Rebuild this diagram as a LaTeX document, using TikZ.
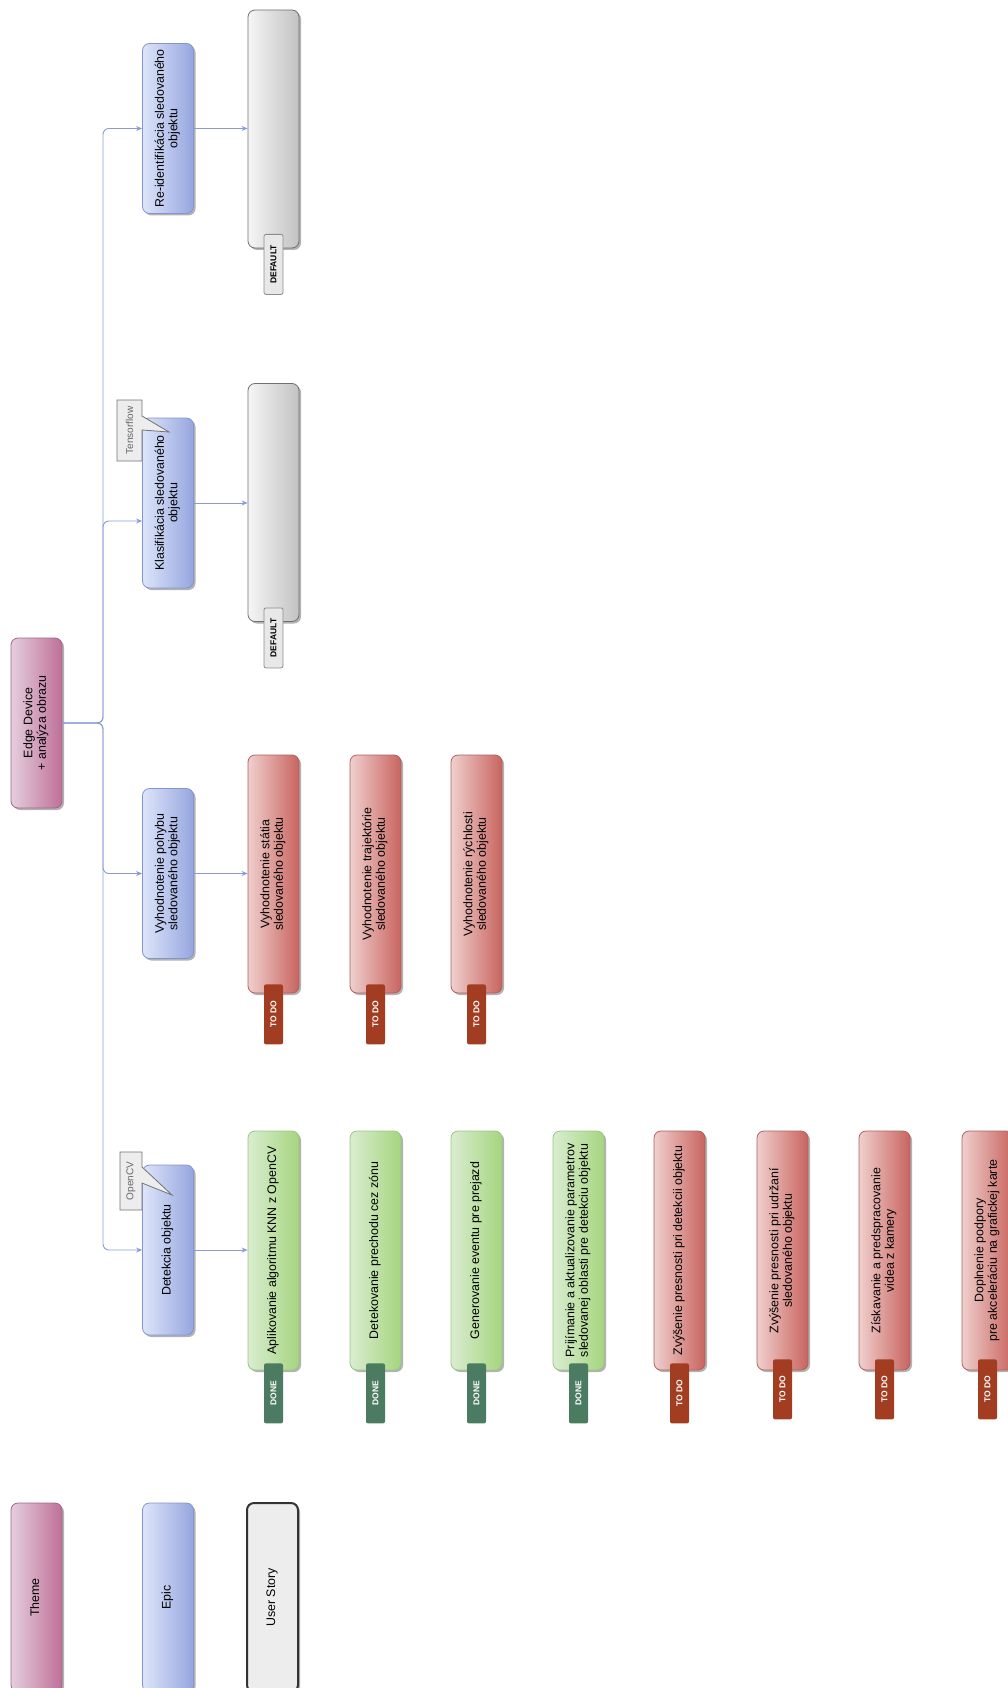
\documentclass[tikz,border=0pt]{standalone}
\usepackage{fontspec}
\setmainfont{Liberation Sans}
\usetikzlibrary{arrows.meta,shadows}
\definecolor{themeL}{HTML}{E4CFDD}
\definecolor{themeR}{HTML}{BF6F98}
\definecolor{themeD}{HTML}{A0658A}
\definecolor{epicL}{HTML}{DDE5FA}
\definecolor{epicR}{HTML}{96A6DF}
\definecolor{epicD}{HTML}{8594D0}
\definecolor{greenL}{HTML}{D9EDD0}
\definecolor{greenR}{HTML}{A6D57F}
\definecolor{greenD}{HTML}{9CC585}
\definecolor{redL}{HTML}{EFCFCD}
\definecolor{redR}{HTML}{C9645F}
\definecolor{redD}{HTML}{B0605D}
\definecolor{grayL}{HTML}{F5F5F5}
\definecolor{grayR}{HTML}{C2C2C2}
\definecolor{grayD}{HTML}{707070}
\definecolor{connc}{HTML}{8B9BD8}
\definecolor{doneC}{HTML}{4B7B61}
\definecolor{todoC}{HTML}{A33D22}
\newcommand{\rtxt}[1]{\rotatebox{90}{\begin{tabular}{@{}c@{}}#1\end{tabular}}}
\begin{document}
\begin{tikzpicture}[x=1pt,y=-1pt,
  card/.style={rounded corners=7pt, line width=0.8pt, inner sep=0pt, minimum width=51pt,
    font=\fontsize{12.4}{13.5}\selectfont,
    drop shadow={shadow xshift=2pt,shadow yshift=-2pt,opacity=0.3,fill=black}},
  theme/.style={card, left color=themeL, right color=themeR, draw=themeD},
  epic/.style={card, left color=epicL, right color=epicR, draw=epicD, minimum height=170pt},
  gstory/.style={card, left color=greenL, right color=greenR, draw=greenD, minimum height=239pt},
  rstory/.style={card, left color=redL, right color=redR, draw=redD, minimum height=239pt},
  dstory/.style={card, left color=grayL, right color=grayR, draw=grayD, minimum height=238pt},
  ustory/.style={card, fill=black!7, draw=black!80, line width=2pt, minimum height=189pt},
  tag/.style={rounded corners=2pt, minimum width=19pt, minimum height=60pt, inner sep=0pt,
    font=\bfseries\fontsize{8.5}{9}\selectfont},
  donetag/.style={tag, fill=doneC, text=white},
  todotag/.style={tag, fill=todoC, text=white},
  deftag/.style={tag, fill=black!9, draw=black!45, line width=0.8pt, text=black},
  callout/.style={fill=black!7, draw=black!55, line width=0.8pt},
  callouttext/.style={font=\fontsize{10}{11}\selectfont, text=black!60, inner sep=0pt},
  conn/.style={draw=connc, line width=0.9pt, -{Stealth[length=6pt,width=5pt]}}
]
\useasboundingbox (0,0) rectangle (1008,1688);

% theme
\node[theme, minimum height=170pt] (th) at (36.5,723) {\rtxt{Edge Device\\+ analýza obrazu}};

% epics
\node[epic] (re) at (168,128.5) {\rtxt{Re-identifikácia sledovaného\\objektu}};
\node[epic] (kl) at (168,503) {\rtxt{Klasifikácia sledovaného\\objektu}};
\node[epic] (vp) at (168,873.5) {\rtxt{Vyhodnotenie pohybu\\sledovaného objektu}};
\node[epic] (de) at (168,1250) {\rtxt{Detekcia objektu}};

% default stories
\node[dstory] (d1) at (273.5,129) {};
\node[dstory] (d2) at (273.5,502.5) {};

% movement stories
\node[rstory, minimum height=238pt] (v1) at (273.5,874) {\rtxt{Vyhodnotenie státia\\sledovaného objektu}};
\node[rstory, minimum height=238pt] (v2) at (375.5,874) {\rtxt{Vyhodnotenie trajektórie\\sledovaného objektu}};
\node[rstory, minimum height=238pt] (v3) at (476.5,874) {\rtxt{Vyhodnotenie rýchlosti\\sledovaného objektu}};

% detection stories
\node[gstory] (s1) at (273.5,1250.5) {\rtxt{Aplikovanie algoritmu KNN z OpenCV}};
\node[gstory] (s2) at (375.5,1250.5) {\rtxt{Detekovanie prechodu cez zónu}};
\node[gstory] (s3) at (476.5,1250.5) {\rtxt{Generovanie eventu pre prejazd}};
\node[gstory] (s4) at (578.5,1250.5) {\rtxt{Prijímanie a aktualizovanie parametrov\\sledovanej oblasti pre detekciu objektu}};
\node[rstory] (s5) at (679.5,1250.5) {\rtxt{Zvýšenie presnosti pri detekcii objektu}};
\node[rstory] (s6) at (782.5,1250.5) {\rtxt{Zvýšenie presnosti pri udržaní\\sledovaného objektu}};
\node[rstory] (s7) at (884.5,1250.5) {\rtxt{Získavanie a predspracovanie\\videa z kamery}};
\node[rstory] (s8) at (987.5,1250.5) {\rtxt{Doplnenie podpory\\pre akceleráciu na grafickej karte}};

% tags
\node[deftag] (t_d1) at ([yshift=-16pt]d1.south) {\rotatebox{90}{DEFAULT}};
\node[deftag] (t_d2) at ([yshift=-16pt]d2.south) {\rotatebox{90}{DEFAULT}};
\node[todotag] (t_v1) at ([yshift=-21pt]v1.south) {\rotatebox{90}{TO DO}};
\node[todotag] (t_v2) at ([yshift=-21pt]v2.south) {\rotatebox{90}{TO DO}};
\node[todotag] (t_v3) at ([yshift=-21pt]v3.south) {\rotatebox{90}{TO DO}};
\node[donetag] (t_s1) at ([yshift=-23pt]s1.south) {\rotatebox{90}{DONE}};
\node[donetag] (t_s2) at ([yshift=-23pt]s2.south) {\rotatebox{90}{DONE}};
\node[donetag] (t_s3) at ([yshift=-23pt]s3.south) {\rotatebox{90}{DONE}};
\node[donetag] (t_s4) at ([yshift=-23pt]s4.south) {\rotatebox{90}{DONE}};
\node[todotag] (t_s5) at ([yshift=-23pt]s5.south) {\rotatebox{90}{TO DO}};
\node[todotag] (t_s6) at ([yshift=-19pt]s6.south) {\rotatebox{90}{TO DO}};
\node[todotag] (t_s7) at ([yshift=-19pt]s7.south) {\rotatebox{90}{TO DO}};
\node[todotag] (t_s8) at ([yshift=-19pt]s8.south) {\rotatebox{90}{TO DO}};

% callouts
\draw[callout] (117,400) -- (142,400) -- (142,416) -- (169,432) -- (142,430) -- (142,461) -- (117,461) -- cycle;
\node[callouttext] (tf) at (129.5,430.5) {\rotatebox{90}{Tensorflow}};
\draw[callout] (120,1152) -- (142,1152) -- (142,1167) -- (172,1195) -- (142,1183) -- (142,1210) -- (120,1210) -- cycle;
\node[callouttext] (cv) at (131,1181) {\rotatebox{90}{OpenCV}};

% connectors theme -> epics
\draw[conn, rounded corners=6pt] (th.east) -- (103,723) |- (re.west);
\draw[conn, rounded corners=6pt] (th.east) -- (103,723) |- ([yshift=-18pt]kl.west);
\draw[conn, rounded corners=6pt] (th.east) -- (103,723) |- (vp.west);
\draw[conn, rounded corners=6pt] (th.east) -- (103,723) |- (de.west);

% epics -> stories
\draw[conn] (re.east) -- (re.east -| d1.west);
\draw[conn] (kl.east) -- (kl.east -| d2.west);
\draw[conn] (vp.east) -- (vp.east -| v1.west);
\draw[conn] (de.east) -- (de.east -| s1.west);

% legend
\node[theme, minimum height=189pt] (lth) at (36.5,1597.5) {\rtxt{Theme}};
\node[epic, minimum height=189pt] (lep) at (168,1597.5) {\rtxt{Epic}};
\node[ustory] (lus) at (272.5,1597.5) {\rtxt{User Story}};
\end{tikzpicture}
\end{document}
